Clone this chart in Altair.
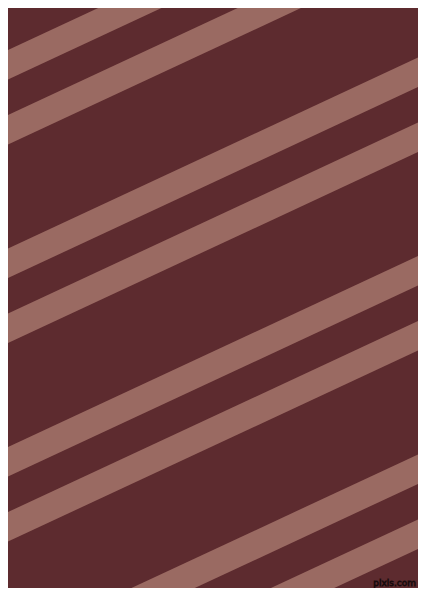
import math
import altair as alt
import pandas as pd

# Stripe centre lines: screen-y where each stripe meets the left edge (x = 0)
stripe_centres = [68.5, 133.5, 267, 332, 465.5, 530.5, 664, 729]
stripe_slope = 0.466      # rise per pixel to the right (stripes go up to the right)
stripe_thickness = 29.5   # vertical thickness of a stripe
x_ends = [-30, 460]

bg_color = "#5D2B2F"
stripe_color = "#9A6A62"
watermark = ["pixls.com"]

rows = []
for i, c in enumerate(stripe_centres):
    for x in x_ends:
        rows.append({"stripe": i, "x": x, "y": c - stripe_slope * x})
df = pd.DataFrame(rows)

# the plot area (410 x 580 px) shows reference pixels 8..418 x 8..588, 1 unit = 1 px
W, H = 410, 580
xs = alt.Scale(domain=[8, 8 + W], nice=False, zero=False)
ys = alt.Scale(domain=[8, 8 + H], nice=False, zero=False, reverse=True)
perp_width = stripe_thickness * math.cos(math.atan(stripe_slope))

stripes = alt.Chart(df).mark_line(
    color=stripe_color, strokeWidth=perp_width, strokeCap="butt", clip=True
).encode(
    x=alt.X("x:Q", scale=xs, axis=None),
    y=alt.Y("y:Q", scale=ys, axis=None),
    detail="stripe:N",
)

wm = alt.Chart(pd.DataFrame({"t": watermark, "x": [416], "y": [582.5]})).mark_text(
    align="right", baseline="middle", fontSize=9, font="DejaVu Sans",
    color="#6A3C3E", stroke="#1A0B0D", strokeWidth=0.8,
).encode(
    x=alt.X("x:Q", scale=xs, axis=None),
    y=alt.Y("y:Q", scale=ys, axis=None),
    text="t:N",
)

chart = alt.layer(stripes, wm).properties(
    width=W, height=H, background=bg_color, padding=0,
    autosize=alt.AutoSizeParams(type="none"),
).configure_view(stroke=None, fill=bg_color)

chart.save("out.html", embed_options={"renderer": "svg", "actions": False})
